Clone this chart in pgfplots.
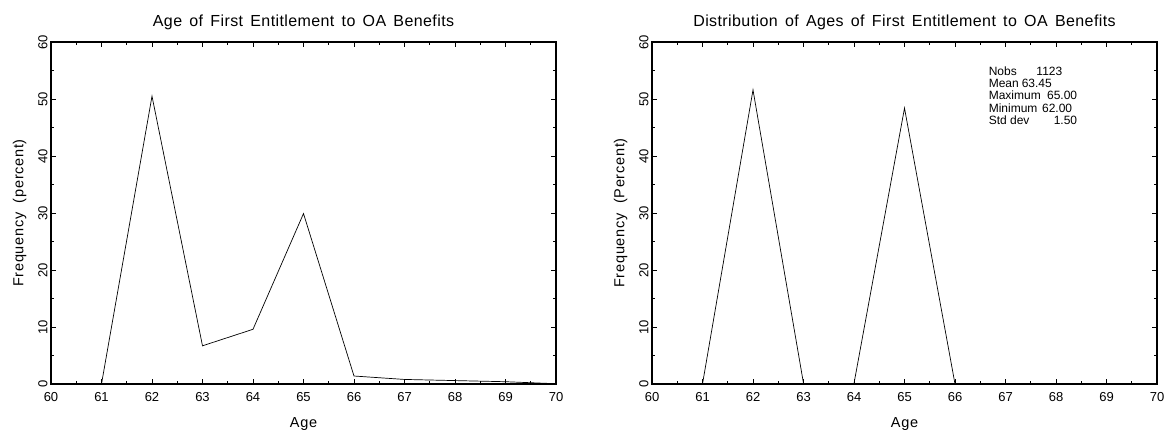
\documentclass[border=0pt]{standalone}
\usepackage{pgfplots}
\pgfplotsset{compat=1.18}
\usepackage{fontspec}
\setmainfont{Liberation Sans}
\newfontfamily\labfont[LetterSpace=5,WordSpace=2]{Liberation Sans}
\newfontfamily\titfont[LetterSpace=2.5,WordSpace=1.5]{Liberation Sans}

\pgfplotsset{
  oastyle/.style={
    scale only axis,
    width=505pt, height=342pt,
    xmin=60, xmax=70, ymin=0, ymax=60,
    xtick={60,...,70}, ytick={0,10,...,60},
    minor x tick num=1, minor y tick num=1,
    tick align=inside,
    major tick length=5pt, minor tick length=3pt,
    axis line style={line width=1.6pt},
    every tick/.style={line width=0.8pt, black},
    tick label style={font=\fontsize{13}{15}\selectfont},
    label style={font=\labfont\fontsize{14.5}{16}\selectfont},
    title style={font=\titfont\fontsize{16}{18}\selectfont, yshift=3pt},
    yticklabel style={rotate=90, anchor=south, xshift=0pt},
    xticklabel style={yshift=-5pt},
    /pgf/number format/assume math mode=true,
    xlabel={Age},
    xlabel style={yshift=-9pt},
    ylabel style={yshift=5pt},
    clip=false,
  }
}

\begin{document}
\begin{tikzpicture}[x=1pt,y=1pt]
\useasboundingbox (-51pt,-47pt) rectangle (1116pt,384pt);

\begin{axis}[oastyle, at={(0pt,0pt)}, anchor=south west,
  title={Age of First Entitlement to OA Benefits},
  ylabel={Frequency (percent)}]
  \addplot[black, line width=0.7pt] coordinates {
    (61,0) (62,50.5) (63,6.7) (64,9.6) (65,29.9) (66,1.4)
    (67,0.8) (68,0.6) (69,0.4) (70,0.05)};
\end{axis}

\begin{axis}[oastyle, at={(601pt,0pt)}, anchor=south west,
  title={Distribution of Ages of First Entitlement to OA Benefits},
  ylabel={Frequency (Percent)}]
  \addplot[black, line width=0.7pt] coordinates {
    (61,0) (62,51.6) (63,0.1) (64,0.1) (65,48.4) (66,0)};
  \node[anchor=north west, align=left, inner sep=0pt,
        font=\fontsize{12}{12.2}\selectfont]
    at (rel axis cs:0.6665,0.928) {%
    \makebox[0pt][l]{Nobs}\hspace{47.7pt}1123\\
    \makebox[0pt][l]{Mean}\hspace{33pt}63.45\\
    \makebox[0pt][l]{Maximum}\hspace{58.3pt}65.00\\
    \makebox[0pt][l]{Minimum}\hspace{53.3pt}62.00\\
    \makebox[0pt][l]{Std dev}\hspace{65pt}1.50};
\end{axis}
\end{tikzpicture}
\end{document}
